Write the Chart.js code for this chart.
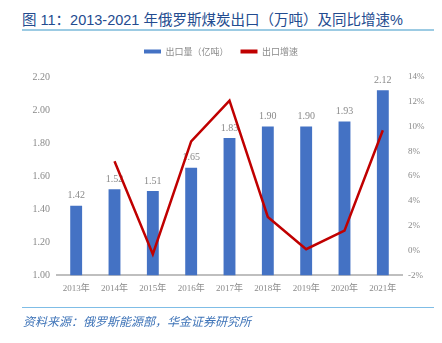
<!DOCTYPE html>
<html><head><meta charset="utf-8">
<script src="https://cdn.jsdelivr.net/npm/chart.js@4"></script>
<style>
html,body{margin:0;padding:0;background:#fff;width:442px;height:343px;overflow:hidden;}
#title{position:absolute;left:22px;top:8px;font-family:"Liberation Sans","Noto Sans CJK SC",sans-serif;font-size:14.5px;color:#234b8f;white-space:nowrap;}
#rule1{position:absolute;left:22px;top:29px;width:412px;height:2px;background:#9ccbe3;}
#rule2{position:absolute;left:22px;top:307px;width:412px;height:1px;background:#7fbde6;}
#src{position:absolute;left:23px;top:312px;font-family:"Noto Sans CJK SC",sans-serif;font-size:12px;font-style:italic;color:#3f74b8;white-space:nowrap;}
#wrap{position:absolute;left:0;top:35px;width:442px;height:273px;}
</style></head><body>
<div id="title">图 11：2013-2021 年俄罗斯煤炭出口（万吨）及同比增速%</div>
<div id="rule1"></div>
<div id="wrap"><canvas id="c"></canvas></div>
<div id="rule2"></div>
<div id="src">资料来源：俄罗斯能源部，华金证券研究所</div>
<script>
const categories = ["2013年","2014年","2015年","2016年","2017年","2018年","2019年","2020年","2021年"];
const exportVolume = [1.42,1.52,1.51,1.65,1.83,1.90,1.90,1.93,2.12];
const growthRate = [null,7.2,-0.3,8.8,12.1,2.7,0.1,1.6,9.7];
const seriesNames = ["出口量（亿吨）","出口增速"];

const serif = '"Liberation Serif","Noto Sans CJK SC",serif';
const gray = '#8a8a8a';

const labelPlugin = {
  id:'barLabels',
  afterDatasetDraw(chart,args){
    if(args.index!==0) return;
    const ctx=chart.ctx; ctx.save();
    ctx.font='10px '+serif; ctx.fillStyle=gray; ctx.textAlign='center'; ctx.textBaseline='bottom';
    args.meta.data.forEach((el,i)=>{ ctx.fillText(exportVolume[i].toFixed(2), el.x, el.y-5); });
    ctx.restore();
  }
};
const legendSpace = {
  id:'legendSpace',
  beforeInit(chart){
    const fit = chart.legend.fit;
    chart.legend.fit = function(){ fit.call(this); this.height += 11; };
  }
};

new Chart(document.getElementById('c'),{
  type:'bar',
  data:{labels:categories,datasets:[
    {type:'bar',label:seriesNames[0],data:exportVolume,backgroundColor:'#4472c4',yAxisID:'y',order:1,barPercentage:0.62,categoryPercentage:0.5},
    {type:'line',label:seriesNames[1],data:growthRate,borderColor:'#c00000',backgroundColor:'#c00000',borderWidth:2.5,pointRadius:0,tension:0,yAxisID:'y1',order:0,spanGaps:false}
  ]},
  options:{
    responsive:true,maintainAspectRatio:false,animation:false,
    layout:{padding:{left:0,right:0,top:0,bottom:6}},
    plugins:{
      tooltip:{enabled:false},
      legend:{position:'top',
        labels:{boxWidth:17,boxHeight:4,font:{size:9,family:'"Noto Sans CJK SC",sans-serif'},color:gray,padding:12,
          generateLabels(chart){
            return chart.data.datasets.map((d,i)=>({text:d.label,fillStyle:d.type==='bar'?d.backgroundColor:d.borderColor,strokeStyle:'rgba(0,0,0,0)',lineWidth:0,datasetIndex:i,fontColor:gray,hidden:false}));
          }
        }
      }
    },
    scales:{
      x:{grid:{display:false,drawTicks:false},border:{color:'#bfbfbf',width:2},
        ticks:{color:gray,font:{size:9,family:serif},padding:8,maxRotation:0}},
      y:{position:'left',min:1,max:2.2,grid:{display:false,drawTicks:false},border:{display:false},
        ticks:{stepSize:0.2,color:gray,font:{size:10,family:serif},padding:7,callback:v=>v.toFixed(2)},
        afterFit(s){s.width=57;}},
      y1:{position:'right',min:-2,max:14,grid:{display:false,drawTicks:false},border:{display:false},
        ticks:{stepSize:2,color:gray,font:{size:9,family:serif},padding:6,callback:v=>v+'%'},
        afterFit(s){s.width=40;}}
    }
  },
  plugins:[labelPlugin,legendSpace]
});
</script>
</body></html>
